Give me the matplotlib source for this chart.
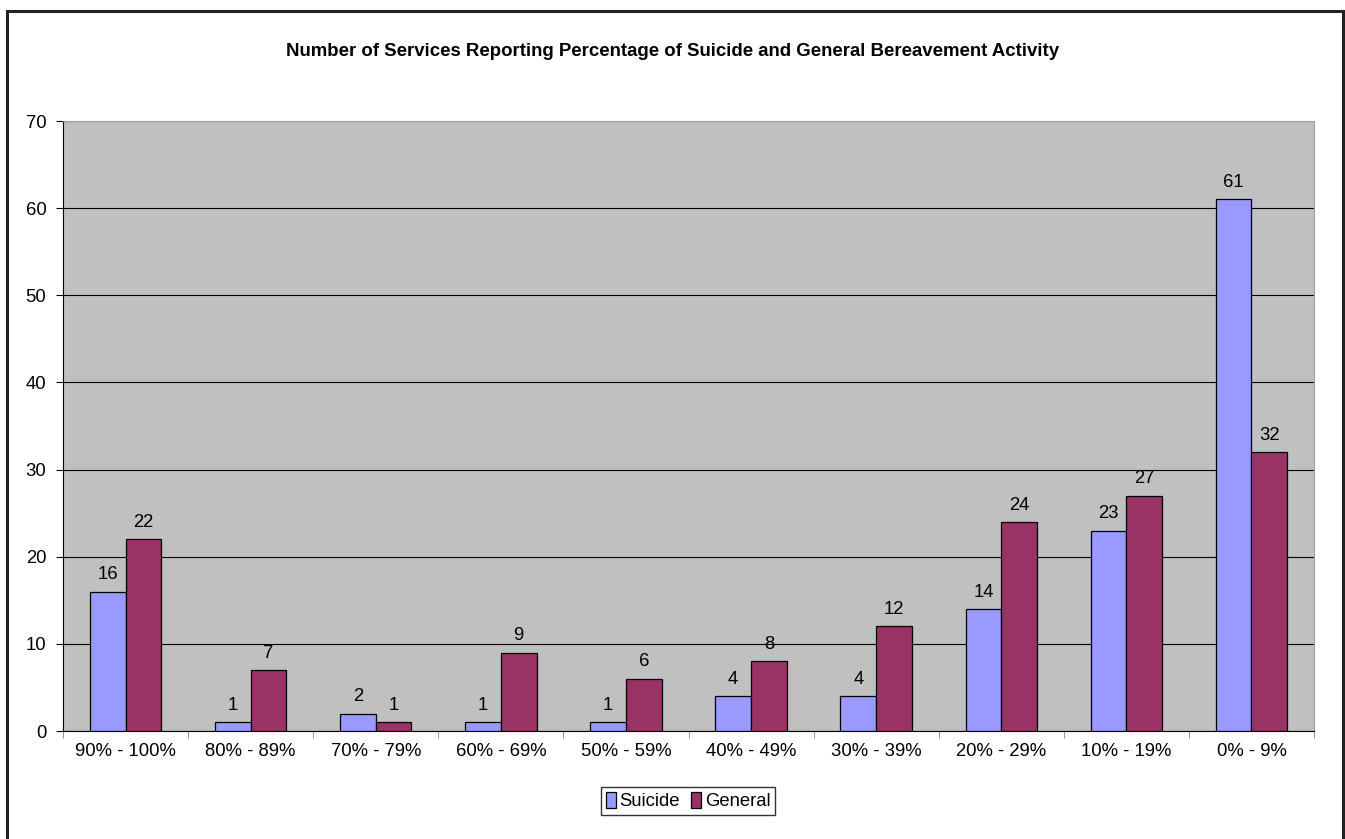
import numpy as np
import matplotlib.pyplot as plt
from matplotlib.patches import Rectangle

plt.rcParams['font.family'] = ['Liberation Sans', 'DejaVu Sans']

categories = ['90% - 100%', '80% - 89%', '70% - 79%', '60% - 69%', '50% - 59%',
              '40% - 49%', '30% - 39%', '20% - 29%', '10% - 19%', '0% - 9%']
suicide = [16, 1, 2, 1, 1, 4, 4, 14, 23, 61]
general = [22, 7, 1, 9, 6, 8, 12, 24, 27, 32]

fs = 13.3

fig = plt.figure(figsize=(13.45, 8.39), dpi=100)
ax = fig.add_axes([63 / 1345, 1 - 731 / 839, 1251 / 1345, 610 / 839])
ax.set_facecolor('#C0C0C0')

x = np.arange(len(categories))
w = 1 / 3.5
b1 = ax.bar(x - w / 2, suicide, w, color='#9999FF', edgecolor='black', linewidth=0.9,
            label='Suicide', zorder=3)
b2 = ax.bar(x + w / 2, general, w, color='#993366', edgecolor='black', linewidth=0.9,
            label='General', zorder=3)
ax.bar_label(b1, padding=6, fontsize=fs)
ax.bar_label(b2, padding=6, fontsize=fs)

ax.set_xlim(-0.5, len(categories) - 0.5)
ax.set_ylim(0, 70)
ax.set_yticks(range(0, 71, 10))
ax.yaxis.grid(True, color='black', linewidth=0.8, zorder=0)
ax.set_axisbelow(True)

ax.set_xticks(x)
ax.set_xticklabels(categories, fontsize=fs)
ax.set_xticks(np.arange(-0.5, len(categories), 1), minor=True)
ax.tick_params(axis='x', which='major', length=0, pad=9)
ax.tick_params(axis='x', which='minor', length=5, color='#808080')
ax.tick_params(axis='y', labelsize=fs, length=5, pad=7)

for side in ['top', 'right']:
    ax.spines[side].set_color('#A0A0A0')
ax.spines['left'].set_color('black')
ax.spines['bottom'].set_color('black')

fig.text(0.5, 1 - 52 / 839, 'Number of Services Reporting Percentage of Suicide and General Bereavement Activity',
         ha='center', va='center', fontsize=13.4, fontweight='bold')

leg = fig.legend(handles=[b1, b2], loc='center', bbox_to_anchor=(688 / 1345, 1 - 801 / 839),
                 ncol=2, fontsize=fs, frameon=True, fancybox=False, edgecolor='black',
                 handlelength=0.55, handleheight=1.0, handletextpad=0.2, columnspacing=0.6,
                 borderpad=0.25, borderaxespad=0)
leg.get_frame().set_linewidth(1.0)

# outer chart border
fig.add_artist(Rectangle((7 / 1345, -0.1), 1336 / 1345, 1.1 - 11 / 839, transform=fig.transFigure,
                         fill=False, edgecolor='#222222', linewidth=2.2))

fig.savefig('out.png', dpi=100)
